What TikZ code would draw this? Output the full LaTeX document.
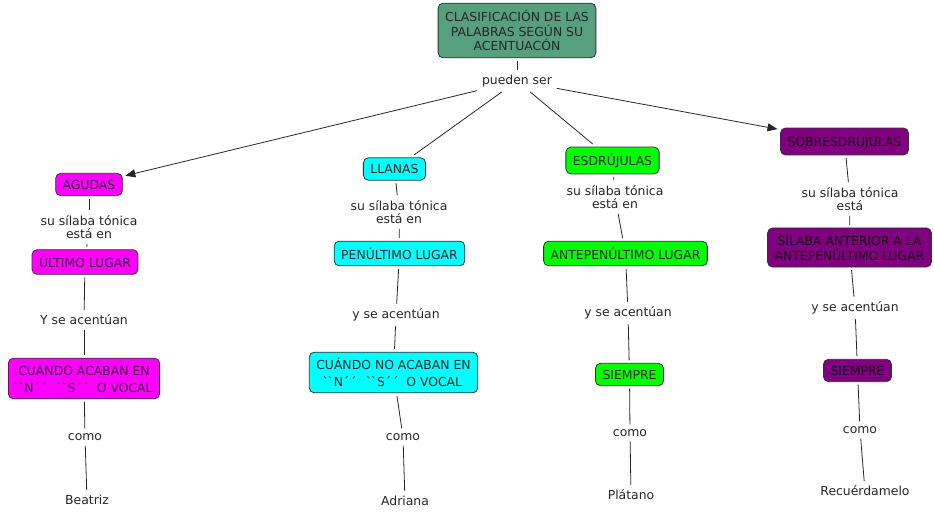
\documentclass[tikz,border=0pt]{standalone}
\usepackage{fontspec}
\setmainfont{DejaVu Sans}
\usetikzlibrary{arrows.meta}
\definecolor{rootc}{HTML}{56A07D}
\definecolor{magc}{HTML}{FF00FF}
\definecolor{cyanc}{HTML}{00FFFF}
\definecolor{grnc}{HTML}{00FF00}
\definecolor{purc}{HTML}{800080}
\newcommand{\qq}{\`{}\kern1pt\`{}}
\newcommand{\cq}{´\kern1pt´}
\tikzset{
  box/.style={draw=black!80, rounded corners=5pt, line width=0.8pt, align=center,
    inner xsep=7pt, inner ysep=6.5pt, font=\fontsize{12.4}{14.5}\selectfont, outer sep=3pt},
  rootbox/.style={box, fill=rootc, text=black!85, inner xsep=7pt, inner ysep=7pt},
  magbox/.style={box, fill=magc, text=black!75!magc},
  cyanbox/.style={box, fill=cyanc, text=black!85},
  grnbox/.style={box, fill=grnc, text=black!85},
  purbox/.style={box, fill=purc, text=black!80!purc},
  twoline/.style={inner ysep=6pt, font=\fontsize{12.4}{17}\selectfont},
  lbl/.style={align=center, font=\fontsize{12.4}{13.5}\selectfont, text=black!85, inner sep=1pt, outer sep=4pt},
  conn/.style={draw=black!85, line width=0.8pt},
  arr/.style={conn, -{Triangle[length=10pt,width=8pt]}}
}
\begin{document}
\begin{tikzpicture}[x=1pt,y=-1pt]
\useasboundingbox (0,0) rectangle (934,516);
\node[rootbox] (root) at (517,30.5) {CLASIFICACIÓN DE LAS\\PALABRAS SEGÚN SU\\ACENTUACÓN};
\node[lbl] (pueden) at (517,81) {pueden ser};

\node[magbox] (agudas) at (89,184.5) {AGUDAS};
\node[cyanbox] (llanas) at (394.5,169) {LLANAS};
\node[grnbox] (esdr) at (612.5,160.5) {ESDRÚJULAS};
\node[purbox] (sobre) at (844.5,141.5) {SOBRESDRÚJULAS};

\node[lbl] (l1) at (89,227) {su sílaba tónica\\está en};
\node[lbl] (l2) at (399,212) {su sílaba tónica\\está en};
\node[lbl] (l3) at (615,197) {su sílaba tónica\\está en};
\node[lbl] (l4) at (850,199) {su sílaba tónica\\está};

\node[magbox] (ultimo) at (85,262) {ÚLTIMO LUGAR};
\node[cyanbox] (penul) at (399.5,253.5) {PENÚLTIMO LUGAR};
\node[grnbox] (antep) at (625.5,253.5) {ANTEPENÚLTIMO LUGAR};
\node[purbox, inner ysep=6.5pt] (silaba) at (849.5,247.5) {SÍLABA ANTERIOR A LA\\ANTEPENÚLTIMO LUGAR};

\node[lbl] (y1) at (84,320) {Y se acentúan};
\node[lbl] (y2) at (396,315) {y se acentúan};
\node[lbl] (y3) at (628,313) {y se acentúan};
\node[lbl] (y4) at (855,308) {y se acentúan};

\node[magbox, twoline] (cuando1) at (84,378.5) {CUÁNDO ACABAN EN\\\qq N\cq\ \ \ \qq S\cq\ \ O VOCAL};
\node[cyanbox, twoline] (cuando2) at (393.5,372.5) {CUÁNDO NO ACABAN EN\\\qq N\cq\ \ \ \qq S\cq\ \ O VOCAL};
\node[grnbox] (siempre1) at (629.5,374.5) {SIEMPRE};
\node[purbox] (siempre2) at (857.5,370.5) {SIEMPRE};

\node[lbl] (c1) at (85,437) {como};
\node[lbl] (c2) at (403,437) {como};
\node[lbl] (c3) at (630,433) {como};
\node[lbl] (c4) at (860,430) {como};

\node[lbl] (e1) at (87,500) {Beatriz};
\node[lbl] (e2) at (405,501) {Adriana};
\node[lbl] (e3) at (631,495) {Plátano};
\node[lbl] (e4) at (865,491) {Recuérdamelo};

\draw[conn] (root) -- (pueden);
\draw[arr] (pueden) -- (agudas);
\draw[conn] (pueden) -- (llanas);
\draw[conn] (pueden) -- (esdr);
\draw[arr] (pueden) -- (sobre);

\foreach \a/\b/\c/\d/\e/\f/\g in {agudas/l1/ultimo/y1/cuando1/c1/e1, llanas/l2/penul/y2/cuando2/c2/e2, esdr/l3/antep/y3/siempre1/c3/e3, sobre/l4/silaba/y4/siempre2/c4/e4}{
  \draw[conn] (\a) -- (\b);
  \draw[conn] (\b) -- (\c);
  \draw[conn] (\c) -- (\d);
  \draw[conn] (\d) -- (\e);
  \draw[conn] (\e) -- (\f);
  \draw[conn] (\f) -- (\g);
}
\end{tikzpicture}
\end{document}
